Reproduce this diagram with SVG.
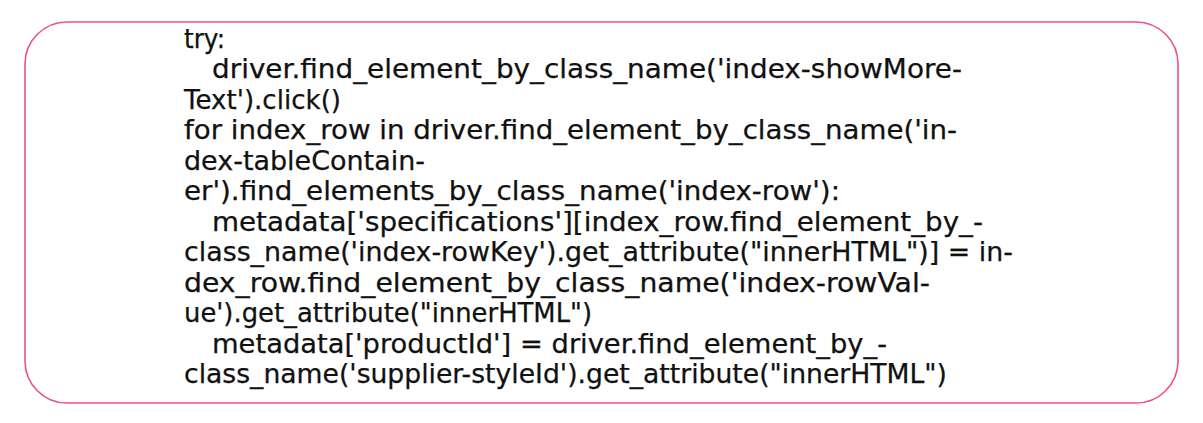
<svg xmlns="http://www.w3.org/2000/svg" width="1203" height="423" viewBox="0 0 1203 423">
  <style>
    .card { fill: #ffffff; stroke: #ec4f8c; stroke-width: 1.6; }
    .code { font-family: "DejaVu Sans", "Liberation Sans", sans-serif; font-size: 26px; fill: #111111; stroke: #111111; stroke-width: 0.25; }
  </style>
  <rect width="1203" height="423" fill="#ffffff"/>
  <g id="card">
    <rect class="card" x="25" y="22" width="1153" height="381" rx="42" ry="42"/>
  </g>
  <g id="code" class="code" xml:space="preserve">
    <text x="184" y="47.5" textLength="41" lengthAdjust="spacingAndGlyphs">try:</text>
    <text x="212" y="78" textLength="750" lengthAdjust="spacingAndGlyphs">driver.find_element_by_class_name('index-showMore-</text>
    <text x="184" y="108.5" textLength="157" lengthAdjust="spacingAndGlyphs">Text').click()</text>
    <text x="184" y="139" textLength="773" lengthAdjust="spacingAndGlyphs">for index_row in driver.find_element_by_class_name('in-</text>
    <text x="184" y="169.5" textLength="241" lengthAdjust="spacingAndGlyphs">dex-tableContain-</text>
    <text x="184" y="200" textLength="656" lengthAdjust="spacingAndGlyphs">er').find_elements_by_class_name('index-row'):</text>
    <text x="212" y="230.5" textLength="771" lengthAdjust="spacingAndGlyphs">metadata['specifications'][index_row.find_element_by_-</text>
    <text x="184" y="261" textLength="829" lengthAdjust="spacingAndGlyphs">class_name('index-rowKey').get_attribute("innerHTML")] =  in-</text>
    <text x="184" y="291.5" textLength="746" lengthAdjust="spacingAndGlyphs">dex_row.find_element_by_class_name('index-rowVal-</text>
    <text x="184" y="322" textLength="408" lengthAdjust="spacingAndGlyphs">ue').get_attribute("innerHTML")</text>
    <text x="212" y="352.5" textLength="675" lengthAdjust="spacingAndGlyphs">metadata['productId'] = driver.find_element_by_-</text>
    <text x="184" y="383" textLength="763" lengthAdjust="spacingAndGlyphs">class_name('supplier-styleId').get_attribute("innerHTML")</text>
  </g>
</svg>
